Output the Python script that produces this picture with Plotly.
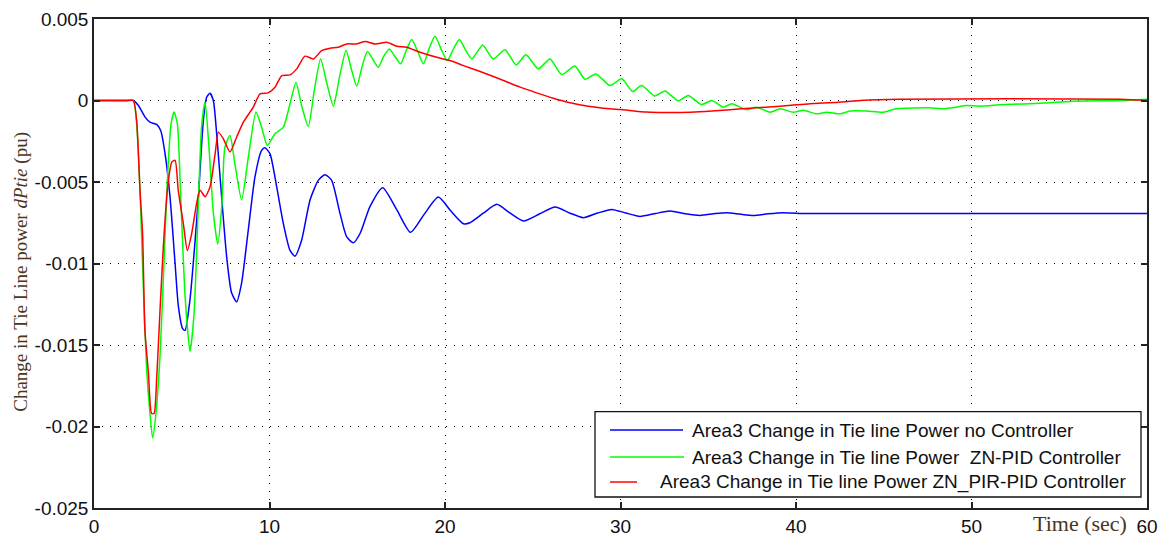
import plotly.graph_objects as go

# ---------------- data ----------------
t_blue = [0, 1.9, 2.24, 2.53, 2.91, 3.19, 3.57, 3.8, 4.05, 4.33, 4.62, 4.81, 5.05, 5.19, 5.47, 5.76, 5.95,
          6.23, 6.42, 6.61, 6.8, 6.99, 7.27, 7.56, 7.84, 8.13, 8.41, 8.79, 9.17, 9.55, 9.74, 10.03,
          10.41, 10.79, 11.17, 11.45, 11.83, 12.31, 12.78, 13.16, 13.54, 14.02, 14.4, 14.78, 15.16,
          15.73, 16.45, 17.25, 18.04, 18.8, 19.62, 20.35, 21.05, 21.42, 22.2, 22.95, 23.7, 24.47,
          25.4, 26.27, 27.1, 27.88, 28.7, 29.5, 30.3, 31.11, 32.0, 32.82, 33.7, 34.53, 35.3, 36.05,
          36.8, 37.57, 38.4, 39.28, 40.2, 60]
v_blue = [0, 0, 0, -0.31, -1.02, -1.33, -1.47, -1.84, -3.27, -5.9, -10.0, -12.65, -14.0, -14.1, -12.2,
          -8.6, -5.9, -1.22, 0.2, 0.45, 0.0, -2.04, -5.9, -9.6, -11.8, -12.35, -11.2, -7.96, -4.7,
          -3.06, -2.9, -3.27, -5.3, -7.55, -9.2, -9.55, -8.57, -6.1, -4.9, -4.55, -4.9, -6.94, -8.37,
          -8.73, -8.16, -6.5, -5.35, -6.7, -8.09, -7.0, -5.92, -6.8, -7.56, -7.5, -6.9, -6.37, -6.9,
          -7.39, -6.95, -6.54, -6.9, -7.19, -6.9, -6.68, -6.9, -7.11, -6.93, -6.78, -6.95, -7.05,
          -6.95, -6.88, -6.97, -7.05, -6.95, -6.88, -6.94, -6.94]

t_green = [0, 1.9, 2.24, 2.43, 2.62, 2.81, 3.0, 3.19, 3.34, 3.53, 3.76, 3.95, 4.18, 4.39, 4.56, 4.75, 4.94,
           5.19, 5.47, 5.7, 5.94, 6.13, 6.33, 6.55, 6.8, 7.05, 7.28, 7.46, 7.75, 8.03, 8.41, 8.79,
           9.23, 9.55, 9.88, 10.31, 10.79, 11.17, 11.51, 11.85, 12.21, 12.55, 12.91, 13.28, 13.64,
           14.0, 14.36, 14.67, 14.97, 15.28, 15.58, 15.9, 16.2, 16.5, 16.83, 17.15, 17.47, 17.8,
           18.1, 18.45, 18.77, 19.1, 19.43, 19.8, 20.13, 20.5, 20.82, 21.17, 21.52, 21.85, 22.15,
           22.75, 23.42, 24.05, 24.61, 25.32, 25.98, 26.65, 27.4, 27.98, 28.6, 29.4, 30.07, 30.69,
           31.2, 31.96, 32.53, 33.29, 33.86, 34.62, 35.2, 35.86, 36.34, 37.2, 37.76, 38.52, 39.1,
           39.85, 40.42, 41.18, 41.74, 42.5, 43.07, 44.0, 44.97, 45.72, 47.6, 48.38, 49.14, 49.7,
           50.48, 51.8, 53.3, 54.1, 55.8, 58.5, 60]
v_green = [0, 0, 0, -1.43, -5.5, -11.4, -16.5, -19.2, -20.7, -19.2, -15.7, -11.0, -4.9, -1.43, -0.71,
           -1.43, -5.9, -12.0, -15.4, -13.1, -6.5, -1.6, -0.1, -2.86, -6.9, -8.8, -6.5, -2.86, -2.14,
           -3.9, -6.1, -3.5, -0.71, -1.63, -2.76, -2.04, -1.63, -0.2, 1.1, -0.4, -1.6, 0.6, 2.55,
           1.0, -0.35, 1.5, 3.06, 1.9, 0.88, 2.1, 3.0, 2.5, 2.04, 2.7, 3.16, 2.7, 2.25, 3.1, 3.74,
           3.0, 2.25, 3.2, 3.94, 3.1, 2.45, 3.2, 3.74, 3.1, 2.55, 3.0, 3.41, 2.55, 3.12, 2.18, 2.8,
           1.94, 2.55, 1.59, 2.12, 1.3, 1.63, 0.92, 1.33, 0.55, 0.92, 0.27, 0.59, -0.02, 0.31, -0.25,
           0.0, -0.41, -0.2, -0.57, -0.41, -0.72, -0.51, -0.72, -0.6, -0.82, -0.72, -0.82, -0.65,
           -0.65, -0.72, -0.51, -0.45, -0.51, -0.41, -0.31, -0.35, -0.25, -0.2, -0.16, -0.04, 0.0, 0.08]

t_red = [0, 1.9, 2.24, 2.43, 2.62, 2.77, 2.9, 3.1, 3.28, 3.42, 3.57, 3.76, 3.95, 4.18, 4.43, 4.62, 4.8,
         5.09, 5.32, 5.56, 5.85, 6.04, 6.33, 6.61, 6.9, 7.09, 7.37, 7.75, 8.13, 8.51, 8.89, 9.08,
         9.46, 9.93, 10.31, 10.7, 11.17, 11.55, 12.02, 12.5, 12.97, 13.45, 13.92, 14.4, 14.97,
         15.45, 16.01, 16.68, 17.25, 17.82, 18.58, 19.53, 20.29, 21.05, 22.0, 22.38, 23.33, 24.28,
         25.22, 26.17, 27.13, 28.07, 29.02, 29.97, 31.49, 32.5, 34.0, 35.2, 36.9, 38.24, 39.56,
         40.8, 42.22, 43.65, 45.83, 58.5, 60]
v_red = [0, 0, 0, -1.22, -5.5, -8.2, -14.1, -16.7, -19.2, -19.2, -17.1, -12.9, -9.0, -5.5, -3.78,
         -3.67, -5.5, -7.55, -9.2, -8.2, -6.3, -5.5, -5.9, -5.3, -3.27, -1.94, -2.35, -3.16, -2.24,
         -1.33, -0.71, -0.4, 0.41, 0.47, 0.81, 1.53, 1.57, 1.94, 2.72, 2.55, 3.06, 3.21, 3.27, 3.47,
         3.47, 3.62, 3.47, 3.57, 3.33, 3.27, 2.96, 2.65, 2.45, 2.14, 1.78, 1.63, 1.23, 0.82, 0.47,
         0.14, -0.14, -0.34, -0.47, -0.55, -0.71, -0.74, -0.72, -0.65, -0.51, -0.41, -0.31, -0.2,
         -0.12, 0.0, 0.08, 0.08, 0.0]

x_ticks = [0, 10, 20, 30, 40, 50, 60]
x_tick_labels = ["0", "10", "20", "30", "40", "50", "60"]
y_ticks = [0.005, 0, -0.005, -0.01, -0.015, -0.02, -0.025]
y_tick_labels = ["0.005", "0", "-0.005", "-0.01", "-0.015", "-0.02", "-0.025"]

series_names = ["Area3 Change in Tie line Power no Controller",
                "Area3 Change in Tie line Power&nbsp; ZN-PID Controller",
                "Area3 Change in Tie line Power ZN_PIR-PID Controller"]
series_colors = ["#0000FF", "#00FF00", "#FF0000"]

# ---------------- figure ----------------
# page coordinates of the plot area (the page body has an 8px default margin)
OFF = 8
PAGE_W, PAGE_H = 1166, 536
L, R, T, B = 94, 1147, 18.5, 508
W, H = PAGE_W - OFF, PAGE_H - OFF


def px(xp):
    return (xp - L) / (R - L)


def py(yp):
    return (B - yp) / (B - T)


fig = go.Figure()
for tt, vv, name, col in [(t_blue, v_blue, series_names[0], series_colors[0]),
                          (t_green, v_green, series_names[1], series_colors[1]),
                          (t_red, v_red, series_names[2], series_colors[2])]:
    fig.add_trace(go.Scatter(x=tt, y=[v * 1e-3 for v in vv], mode="lines", name=name,
                             line=dict(color=col, width=1.5, shape="spline", smoothing=0.6),
                             showlegend=False))

tick_font = dict(family="Liberation Sans, Arial, sans-serif", size=19, color="#111")
axis_common = dict(showline=True, linecolor="#222", linewidth=1.5, mirror="ticks",
                   ticks="inside", ticklen=6, tickcolor="#222", tickwidth=1.5,
                   showgrid=True, gridcolor="#000", gridwidth=1.2, griddash="1px,7px",
                   zeroline=False, tickfont=tick_font, automargin=False)

fig.update_layout(
    template="none",
    width=W, height=H,
    margin=dict(l=L - OFF, r=PAGE_W - R, t=T - OFF, b=PAGE_H - B, pad=0, autoexpand=False),
    paper_bgcolor="white", plot_bgcolor="white",
    xaxis=dict(range=[0, 60], tickvals=x_ticks, ticktext=x_tick_labels, **axis_common),
    yaxis=dict(range=[-0.025, 0.005], tickvals=y_ticks, ticktext=y_tick_labels, **axis_common),
)

# axis labels
label_color = "#4a3520"
fig.add_annotation(text="Change in Tie Line power <i>dPtie</i> (pu)", xref="paper", yref="paper",
                   x=px(21), y=py(271.5), textangle=-90, showarrow=False,
                   xanchor="center", yanchor="middle",
                   font=dict(family="Liberation Serif, Times New Roman, serif", size=19,
                             color=label_color))
fig.add_annotation(text="Time (sec)", xref="paper", yref="paper",
                   x=px(1129), y=py(524), showarrow=False, xanchor="right", yanchor="middle",
                   font=dict(family="Liberation Serif, Times New Roman, serif", size=22,
                             color=label_color))

# custom legend (MATLAB-style box)
fig.add_shape(type="rect", xref="paper", yref="paper", x0=px(595), x1=px(1141),
              y0=py(497), y1=py(411.5), line=dict(color="#111", width=1.3), fillcolor="white",
              layer="above")
rows = [(430, 610, 683, 690), (457, 610, 684, 690), (482, 610, 637, 658)]
leg_font = dict(family="Liberation Sans, Arial, sans-serif", size=19, color="#111")
for (yr, lx0, lx1, tx), name, col in zip(rows, series_names, series_colors):
    fig.add_shape(type="line", xref="paper", yref="paper", x0=px(lx0), x1=px(lx1),
                  y0=py(yr), y1=py(yr), line=dict(color=col, width=1.5), layer="above")
    fig.add_annotation(text=name, xref="paper", yref="paper", x=px(tx), y=py(yr),
                       showarrow=False, xanchor="left", yanchor="middle", font=leg_font)

fig.write_html("out.html")
